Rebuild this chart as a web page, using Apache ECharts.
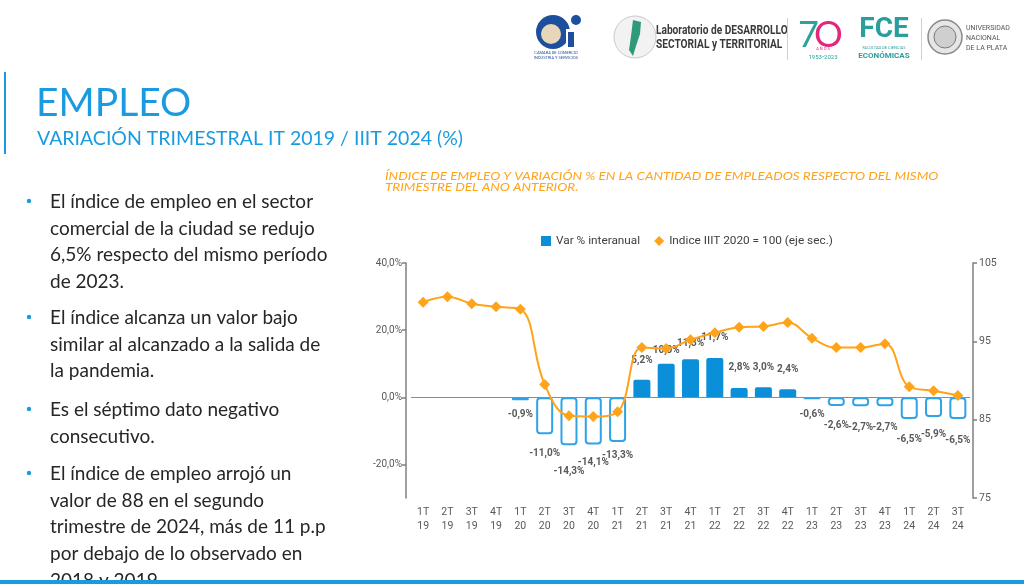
<!DOCTYPE html>
<html><head><meta charset="utf-8">
<script src="https://cdn.jsdelivr.net/npm/echarts@6/dist/echarts.min.js"></script>
<style>html,body{margin:0;padding:0;background:#fff}#c{width:1024px;height:584px}</style>
</head><body><div id="c"></div>
<script>
// ---- data ----
const categories = ['1T\n19','2T\n19','3T\n19','4T\n19','1T\n20','2T\n20','3T\n20','4T\n20','1T\n21','2T\n21','3T\n21','4T\n21','1T\n22','2T\n22','3T\n22','4T\n22','1T\n23','2T\n23','3T\n23','4T\n23','1T\n24','2T\n24','3T\n24'];
const varInteranual = [null,null,null,null,-0.9,-11.0,-14.3,-14.1,-13.3,5.2,10.0,11.3,11.7,2.8,3.0,2.4,-0.6,-2.6,-2.7,-2.7,-6.5,-5.9,-6.5];
const indice = [100.0,100.7,99.8,99.4,99.1,89.5,85.5,85.4,86.0,94.2,94.1,95.2,96.1,96.8,96.9,97.4,95.4,94.2,94.2,94.7,89.2,88.7,88.1];
const leftTickValues = [-20, 0, 20, 40];
const leftRange = [-30, 40];
const rightTicks = [75, 105, 10];   // min, max, interval
// label nudges (styling only, px)
const labelNudge = {'2T\n20':5,'3T\n20':12,'4T\n20':4,'1T\n23':1,'2T\n23':5,'3T\n23':7,'4T\n23':7,'1T\n24':6,'2T\n24':3,'3T\n24':7,'2T\n21':-5,'3T\n21':1,'4T\n21':-2,'1T\n22':-7,'2T\n22':-6,'3T\n22':-6,'4T\n22':-6};

const BLUE = '#0b8fd9', BLUE_L = '#2ea3e8', ORANGE = '#ffa31a', SLIDE_BLUE = '#1a9be0';
const fmt = v => v.toFixed(1).replace('.', ',') + '%';

const barData = varInteranual.map((v, i) => {
  if (v === null) return null;
  const neg = v < 0;
  return {
    value: v,
    itemStyle: neg ? {color:'#fff', borderColor: BLUE_L, borderWidth: 2, borderRadius: 3}
                   : {color: BLUE, borderRadius: [2,2,0,0]},
    label: {position: neg ? 'bottom' : 'top', offset: [0, labelNudge[categories[i]] || 0]}
  };
});

const bulletFont = '19px Lato';
const bullets = [
  ['El índice de empleo en el sector','comercial de la ciudad se redujo','6,5% respecto del mismo período','de 2023.'],
  ['El índice alcanza un valor bajo','similar al alcanzado a la salida de','la pandemia.'],
  ['Es el séptimo dato negativo','consecutivo.'],
  ['El índice de empleo arrojó un','valor de 88 en el segundo','trimestre de 2024, más de 11 p.p','por debajo de lo observado en','2018 y 2019.']
];
const bulletStarts = [202, 318, 410, 474];
const g = [];
bullets.forEach((lines, bi) => {
  g.push({type:'circle', shape:{cx:29, cy:bulletStarts[bi]-1, r:2.2}, style:{fill:SLIDE_BLUE}});
  lines.forEach((t, li) => {
    g.push({type:'text', x:50, y:bulletStarts[bi] + li*26.6, style:{text:t, font:bulletFont, fill:'#262626', textVerticalAlign:'middle'}});
  });
});
// slide header
g.push({type:'rect', shape:{x:4, y:72, width:2, height:82}, style:{fill:SLIDE_BLUE}});
g.push({type:'text', x:36, y:103, style:{text:'EMPLEO', font:'39px Lato', fill:SLIDE_BLUE, textVerticalAlign:'middle'}});
g.push({type:'text', x:37, y:139, style:{text:'VARIACIÓN TRIMESTRAL IT 2019 / IIIT 2024 (%)', font:'19.5px Lato', fill:SLIDE_BLUE, textVerticalAlign:'middle'}});
g.push({type:'rect', shape:{x:0, y:580, width:1024, height:4}, style:{fill:SLIDE_BLUE}});
// chart heading (orange, italic)
g.push({type:'text', x:385, y:176, scaleX:1.125, style:{text:'ÍNDICE DE EMPLEO Y VARIACIÓN % EN LA CANTIDAD DE EMPLEADOS RESPECTO DEL MISMO', font:'italic 12px Lato', fill:ORANGE, textVerticalAlign:'middle'}});
g.push({type:'text', x:385, y:187.5, scaleX:1.125, style:{text:'TRIMESTRE DEL AÑO ANTERIOR.', font:'italic 12px Lato', fill:ORANGE, textVerticalAlign:'middle'}});
// logos (approximate)
g.push({type:'circle', shape:{cx:553, cy:32, r:17}, style:{fill:'#1d4f9c'}});
g.push({type:'circle', shape:{cx:551, cy:34, r:10}, style:{fill:'#e8d6b8'}});
g.push({type:'rect', shape:{x:566, y:29, width:9, height:18}, style:{fill:'#fff'}});
g.push({type:'rect', shape:{x:568, y:32, width:6, height:15}, style:{fill:'#1d4f9c'}});
g.push({type:'circle', shape:{cx:576, cy:20, r:5}, style:{fill:'#1d4f9c'}});
g.push({type:'text', x:556, y:55, style:{text:'CÁMARA DE COMERCIO\nINDUSTRIA Y SERVICIOS', font:'4px Roboto', fill:'#1d4f9c', align:'center', textVerticalAlign:'middle', lineHeight:5}});
g.push({type:'circle', shape:{cx:635, cy:37, r:21}, style:{fill:'#f2f2f2', stroke:'#c9c9c9', lineWidth:1}});
g.push({type:'polygon', shape:{points:[[633,20],[641,22],[640,34],[636,46],[633,56],[629,50],[631,36]]}, style:{fill:'#2f9a7a'}});
g.push({type:'text', x:656, y:31, scaleX:0.78, style:{text:'Laboratorio de DESARROLLO', font:'bold 13px Roboto', fill:'#3a3a3a', textVerticalAlign:'middle'}});
g.push({type:'text', x:656, y:45, scaleX:0.78, style:{text:'SECTORIAL y TERRITORIAL', font:'bold 13px Roboto', fill:'#3a3a3a', textVerticalAlign:'middle'}});
g.push({type:'rect', shape:{x:787, y:18, width:1, height:42}, style:{fill:'#d0d0d0'}});
g.push({type:'text', x:798, y:35, style:{text:'7', font:'36px Lato', fill:'#2aa39a', textVerticalAlign:'middle'}});
g.push({type:'text', x:814, y:35, style:{text:'O', font:'36px Lato', fill:'#e2277c', textVerticalAlign:'middle'}});
g.push({type:'text', x:823, y:49, style:{text:'A Ñ O S', font:'4px Roboto', fill:'#e2277c', align:'center', textVerticalAlign:'middle'}});
g.push({type:'text', x:823, y:57, style:{text:'1953•2023', font:'6px Roboto', fill:'#2aa39a', align:'center', textVerticalAlign:'middle'}});
g.push({type:'text', x:884, y:30, style:{text:'FCE', font:'bold 28px Roboto', fill:'#2a9d9d', align:'center', textVerticalAlign:'middle'}});
g.push({type:'text', x:884, y:48, style:{text:'FACULTAD DE CIENCIAS', font:'4px Roboto', fill:'#2a9d9d', align:'center', textVerticalAlign:'middle'}});
g.push({type:'text', x:884, y:56, style:{text:'ECONÓMICAS', font:'bold 8px Roboto', fill:'#2a9d9d', align:'center', textVerticalAlign:'middle'}});
g.push({type:'rect', shape:{x:921, y:18, width:1, height:42}, style:{fill:'#d0d0d0'}});
g.push({type:'circle', shape:{cx:945, cy:37, r:17}, style:{fill:'#e6e6e6', stroke:'#8a8a8a', lineWidth:1.5}});
g.push({type:'circle', shape:{cx:945, cy:37, r:11}, style:{fill:'#cfcfcf', stroke:'#7a7a7a', lineWidth:1}});
g.push({type:'text', x:966, y:38, style:{text:'UNIVERSIDAD\nNACIONAL\nDE LA PLATA', font:'7px Roboto', fill:'#555', textVerticalAlign:'middle', lineHeight:10}});

const axisGrey = {color:'#7f7f7f', width:1.5};
const chart = echarts.init(document.getElementById('c'), null, {renderer:'canvas'});
chart.setOption({
  animation: false,
  legend: {
    top: 230, left: 536, itemGap: 14, itemWidth: 10, itemHeight: 10,
    textStyle: {fontFamily:'Roboto', fontSize:11.8, color:'#404040'},
    data: [{name:'Var % interanual', icon:'rect'}, {name:'Indice IIIT 2020 = 100 (eje sec.)', icon:'diamond'}]
  },
  grid: {left: 411, right: 54, top: 263, height: 235},
  xAxis: {
    type: 'category', data: categories,
    axisLine: {show:false}, axisTick: {show:false},
    axisLabel: {fontFamily:'Roboto', fontSize:10.5, color:'#595959', lineHeight:14, margin:7}
  },
  yAxis: [
    {type:'value', min:leftRange[0], max:leftRange[1], offset:5,
     splitLine:{show:false},
     axisLine:{show:true, lineStyle:axisGrey},
     axisTick:{show:true, length:4, lineStyle:axisGrey, customValues:leftTickValues},
     axisLabel:{fontFamily:'Roboto', fontSize:10, color:'#595959', margin:4, customValues:leftTickValues,
       formatter: v => v.toFixed(1).replace('.', ',') + '%'}},
    {type:'value', min:rightTicks[0], max:rightTicks[1], interval:rightTicks[2], offset:3, position:'right',
     splitLine:{show:false},
     axisLine:{show:true, lineStyle:axisGrey},
     axisTick:{show:true, length:4, lineStyle:axisGrey},
     axisLabel:{fontFamily:'Roboto', fontSize:10.5, color:'#595959', margin:6}}
  ],
  series: [
    {name:'Var % interanual', type:'bar', yAxisIndex:0, barWidth:17, data: barData,
     itemStyle:{color:BLUE},
     label:{show:true, distance:9, fontFamily:'Roboto', fontSize:10, fontWeight:'bold', color:'#595959',
       formatter: p => fmt(p.value)},
     markLine:{silent:true, symbol:'none', label:{show:false},
       lineStyle:{color:'#8c8c8c', width:1.2, type:'solid'}, data:[{yAxis:0}]}},
    {name:'Indice IIIT 2020 = 100 (eje sec.)', type:'line', yAxisIndex:1, data: indice,
     smooth: 0.4, symbol:'diamond', symbolSize:11,
     lineStyle:{color:ORANGE, width:2}, itemStyle:{color:ORANGE}, z:5}
  ],
  graphic: g
});
</script></body></html>
